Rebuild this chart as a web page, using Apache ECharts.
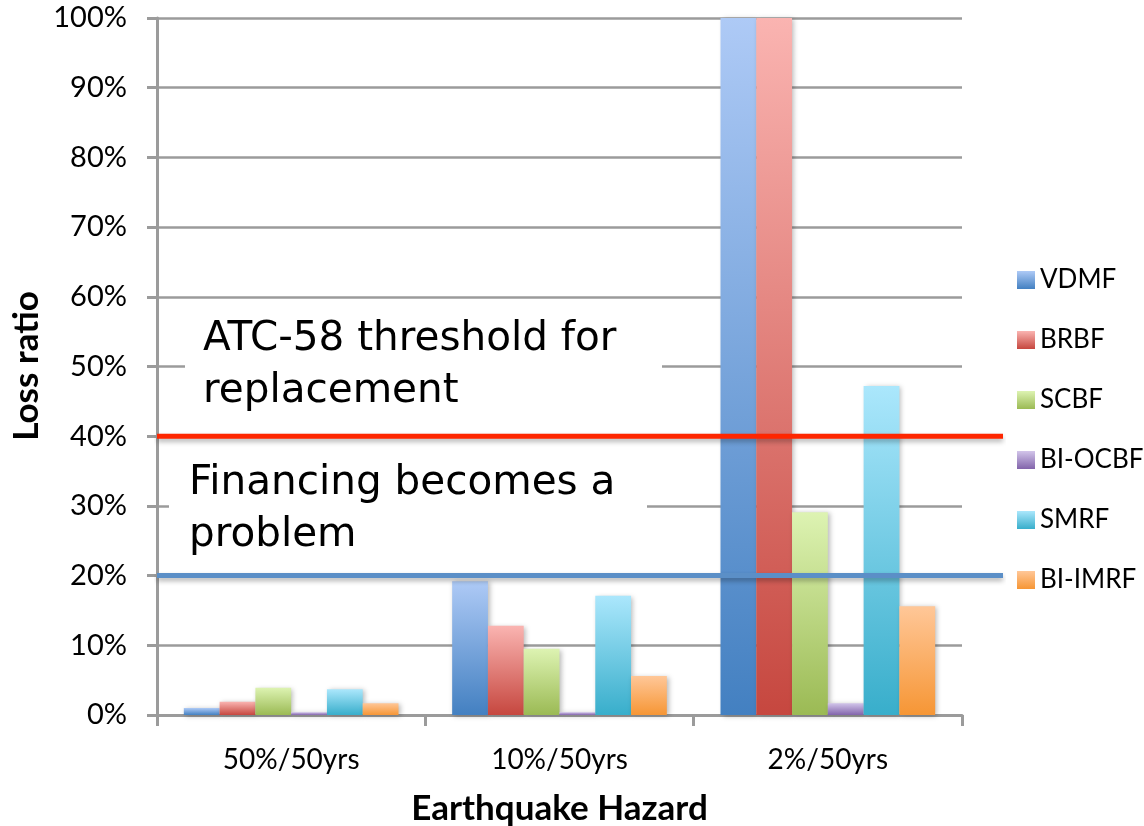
<!DOCTYPE html>
<html>
<head>
<meta charset="utf-8">
<script src="https://cdn.jsdelivr.net/npm/echarts@6/dist/echarts.min.js"></script>
<style>
  html, body { margin: 0; padding: 0; background: #ffffff; }
  #chart { width: 1144px; height: 826px; }
</style>
</head>
<body>
<div id="chart"></div>
<script>
// Hazard levels on the x axis
const categories = ['50%/50yrs', '10%/50yrs', '2%/50yrs'];

// Loss ratio (%) for each structural system at each hazard level
const vdmf   = [1.0, 19.2, 100];
const brbf   = [1.9, 12.8, 100];
const scbf   = [3.9, 9.5, 29.1];
const biOcbf = [0.4, 0.4, 1.7];
const smrf   = [3.7, 17.1, 47.2];
const biImrf = [1.7, 5.6, 15.6];

// Threshold levels (%)
const replacementThreshold = 40;
const financingThreshold = 20;

const yTicks = [0, 10, 20, 30, 40, 50, 60, 70, 80, 90, 100];

const seriesDefs = [
  { name: 'VDMF',    data: vdmf,   top: '#aecaf6', bottom: '#4380c1' },
  { name: 'BRBF',    data: brbf,   top: '#fab4b1', bottom: '#c6473f' },
  { name: 'SCBF',    data: scbf,   top: '#ddf3b2', bottom: '#9bba54' },
  { name: 'BI-OCBF', data: biOcbf, top: '#d2c5ea', bottom: '#8264ab' },
  { name: 'SMRF',    data: smrf,   top: '#abe7fc', bottom: '#38aecb' },
  { name: 'BI-IMRF', data: biImrf, top: '#ffc798', bottom: '#f69635' }
];

const labelFont = 'Lato, "Open Sans", sans-serif';
const noteFont = '"DejaVu Sans", Verdana, sans-serif';

const chart = echarts.init(document.getElementById('chart'));

const barSeries = seriesDefs.map(s => ({
  name: s.name,
  type: 'bar',
  xAxisIndex: 0,
  yAxisIndex: 0,
  data: s.data,
  barGap: '0%',
  barCategoryGap: '20%',
  z: 3,
  itemStyle: {
    color: new echarts.graphic.LinearGradient(0, 0, 0, 1, [
      { offset: 0, color: s.top },
      { offset: 1, color: s.bottom }
    ]),
    shadowColor: 'rgba(0,0,0,0.28)',
    shadowBlur: 5,
    shadowOffsetX: 2,
    shadowOffsetY: 1
  }
}));

function thresholdLine(value, color) {
  return {
    type: 'line',
    xAxisIndex: 1,
    yAxisIndex: 1,
    data: [[0, value], [1, value]],
    symbol: 'none',
    silent: true,
    z: 10,
    lineStyle: {
      color: color,
      width: 5,
      shadowColor: 'rgba(0,0,0,0.3)',
      shadowBlur: 5,
      shadowOffsetY: 3
    }
  };
}

chart.setOption({
  animation: false,
  backgroundColor: '#ffffff',
  grid: [
    { left: 157, right: 182, top: 18, bottom: 111, outerBoundsMode: 'none', containLabel: false },
    { left: 157, right: 141, top: 18, bottom: 111, outerBoundsMode: 'none', containLabel: false }
  ],
  legend: {
    data: seriesDefs.map(s => s.name),
    orient: 'vertical',
    left: 1012,
    top: 262,
    itemWidth: 18,
    itemHeight: 18,
    itemGap: 34,
    icon: 'rect',
    textStyle: {
      fontFamily: labelFont,
      fontSize: 26,
      lineHeight: 26,
      color: '#000000',
      padding: [0, 0, 0, 0]
    }
  },
  xAxis: [
    {
      type: 'category',
      gridIndex: 0,
      data: categories,
      name: 'Earthquake Hazard',
      nameLocation: 'middle',
      nameGap: 76,
      nameTextStyle: {
        fontFamily: labelFont,
        fontSize: 35,
        fontWeight: 'bold',
        color: '#000000'
      },
      axisLine: { show: true, lineStyle: { color: '#9b9b9b', width: 3 } },
      axisTick: { show: true, alignWithLabel: false, length: 11, lineStyle: { color: '#9b9b9b', width: 3 } },
      axisLabel: {
        fontFamily: labelFont,
        fontSize: 28,
        color: '#000000',
        margin: 31
      }
    },
    {
      type: 'value',
      gridIndex: 1,
      min: 0,
      max: 1,
      show: false
    }
  ],
  yAxis: [
    {
      type: 'value',
      gridIndex: 0,
      min: 0,
      max: 100,
      interval: 10,
      axisLine: { show: true, lineStyle: { color: '#9b9b9b', width: 3 } },
      axisTick: { show: true, length: 10, lineStyle: { color: '#9b9b9b', width: 3 } },
      splitLine: { show: true, lineStyle: { color: '#9b9b9b', width: 2.5 } },
      axisLabel: {
        fontFamily: labelFont,
        fontSize: 29,
        color: '#000000',
        margin: 30,
        formatter: v => (yTicks.indexOf(v) >= 0 ? v + '%' : '')
      }
    },
    {
      type: 'value',
      gridIndex: 1,
      min: 0,
      max: 100,
      show: false
    }
  ],
  graphic: [
    {
      type: 'text',
      x: 27,
      y: 366,
      rotation: Math.PI / 2,
      style: {
        text: 'Loss ratio',
        fontFamily: labelFont,
        fontSize: 35,
        fontWeight: 'bold',
        fill: '#000000',
        align: 'center',
        verticalAlign: 'middle'
      },
      z: 5
    },
    // White annotation boxes over the gridlines
    {
      type: 'rect',
      shape: { x: 185, y: 306, width: 477, height: 122 },
      style: { fill: '#ffffff' },
      z: 1
    },
    {
      type: 'text',
      x: 203,
      y: 313,
      style: {
        text: 'ATC-58 threshold for\nreplacement',
        fontFamily: noteFont,
        fontSize: 40.5,
        lineHeight: 52,
        fill: '#000000',
        verticalAlign: 'top'
      },
      z: 2
    },
    {
      type: 'rect',
      shape: { x: 169, y: 446, width: 478, height: 120 },
      style: { fill: '#ffffff' },
      z: 1
    },
    {
      type: 'text',
      x: 189,
      y: 457,
      style: {
        text: 'Financing becomes a\nproblem',
        fontFamily: noteFont,
        fontSize: 40.5,
        lineHeight: 52,
        fill: '#000000',
        verticalAlign: 'top'
      },
      z: 2
    }
  ],
  series: barSeries.concat([
    thresholdLine(replacementThreshold, '#fe2600'),
    thresholdLine(financingThreshold, '#5b8fc7')
  ])
});
</script>
</body>
</html>
